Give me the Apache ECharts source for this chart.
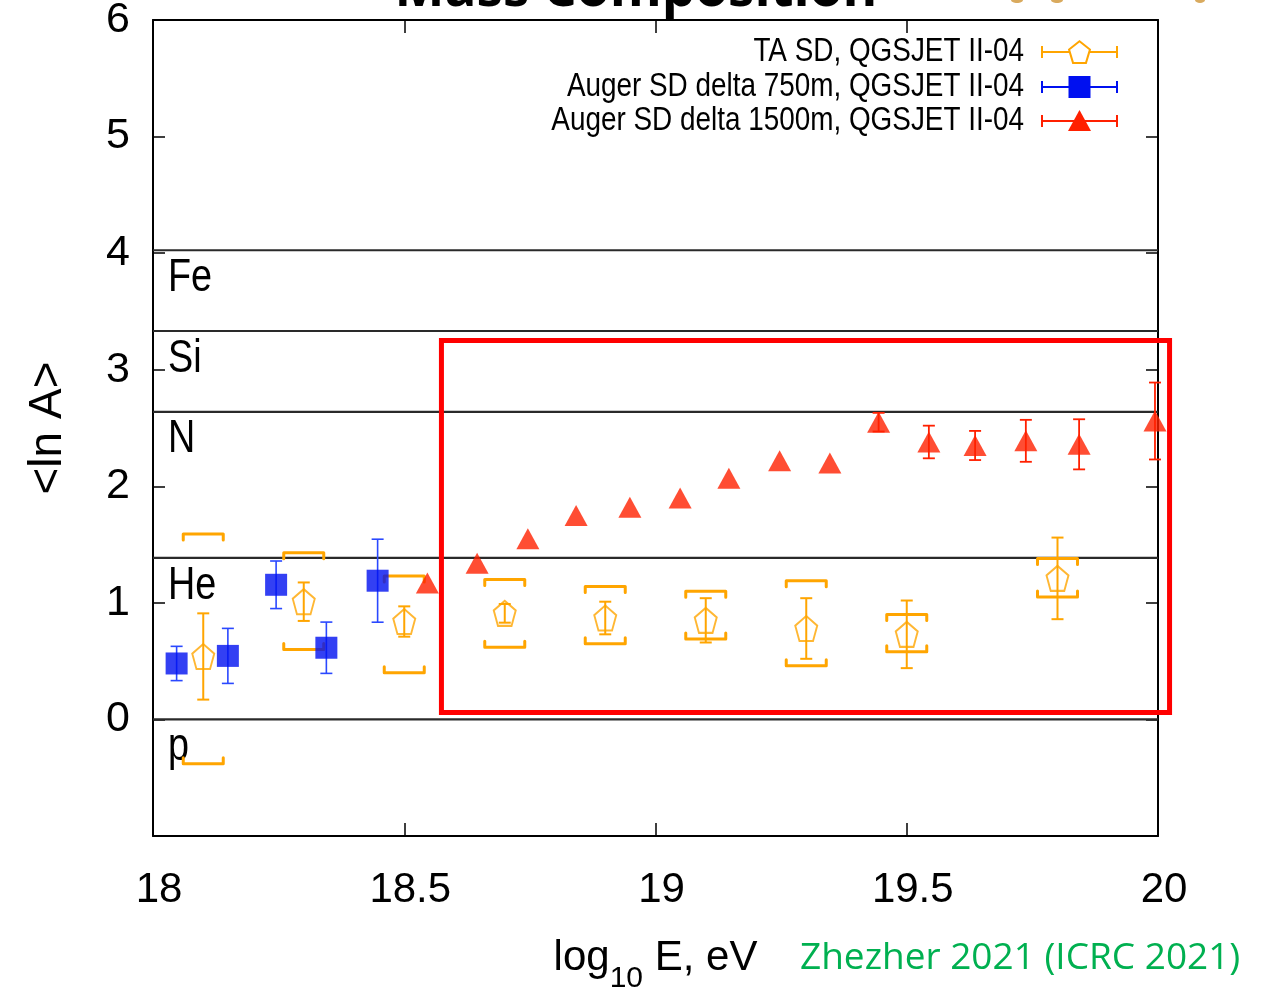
<!DOCTYPE html>
<html>
<head>
<meta charset="utf-8">
<title>Mass Composition</title>
<script src="https://cdn.jsdelivr.net/npm/echarts@6/dist/echarts.min.js"></script>
<style>
  html, body { margin: 0; padding: 0; background: #ffffff; }
  #chart { width: 1268px; height: 997px; }
</style>
</head>
<body>
<div id="chart"></div>
<script>
// ---- TA SD, QGSJET II-04: <ln A> with statistical errors and systematic band edges
const taEnergy    = [18.10, 18.30, 18.50, 18.70, 18.90, 19.10, 19.30, 19.50, 19.80];
const taLnA       = [0.54, 1.01, 0.84, 0.91, 0.87, 0.85, 0.78, 0.73, 1.21];
const taStatErr   = [0.37, 0.165, 0.13, 0.08, 0.14, 0.19, 0.26, 0.29, 0.35];
const taSysUpper  = [1.59, 1.43, 1.23, 1.20, 1.14, 1.10, 1.19, 0.90, 1.38];
const taSysLower  = [-0.38, 0.60, 0.40, 0.62, 0.65, 0.69, 0.46, 0.58, 1.05];

// ---- Auger SD delta method, 750 m array
const auger750Energy = [18.047, 18.149, 18.245, 18.345, 18.447];
const auger750LnA    = [0.48, 0.545, 1.155, 0.615, 1.19];
const auger750Err    = [0.147, 0.236, 0.204, 0.22, 0.356];

// ---- Auger SD delta method, 1500 m array
const auger1500Energy = [18.546, 18.645, 18.746, 18.842, 18.949, 19.049, 19.146, 19.247,
                         19.347, 19.444, 19.544, 19.636, 19.737, 19.843, 19.994];
const auger1500LnA    = [1.17, 1.34, 1.55, 1.75, 1.82, 1.90, 2.07, 2.22,
                         2.20, 2.55, 2.38, 2.35, 2.39, 2.36, 2.56];
const auger1500Err    = [0, 0, 0, 0, 0, 0, 0, 0,
                         0, 0.08, 0.14, 0.125, 0.18, 0.215, 0.33];

// ---- reference nuclei: ln A of p, He, N, Si, Fe
const nucleusNames = ['p', 'He', 'N', 'Si', 'Fe'];
const nucleusLnA   = [0, 1.386, 2.639, 3.332, 4.025];

// ---- axis ticks
const energyTicks = [18, 18.5, 19, 19.5, 20];
const lnATicks    = [0, 1, 2, 3, 4, 5, 6];

// ---- legend entries
const seriesNames = ['TA SD, QGSJET II-04', 'Auger SD delta 750m, QGSJET II-04', 'Auger SD delta 1500m, QGSJET II-04'];

// ---- highlighted region (energy range / ln A range)
const highlightEnergy = [18.574, 20.023];
const highlightLnA    = [0.059, 3.25];

const ORANGE = '#ffa500';
const BLUE = '#0010f0';
const BLUE_BAR = '#2a48ff';
const RED = '#ff2000';
const SANS = '"Liberation Sans", Arial, sans-serif';
const NARROW_SCALE = 0.82;

const PENTAGON = 'path://M0,-100L95.1,-30.9L58.8,80.9L-58.8,80.9L-95.1,-30.9Z';

function errorRows(energy, value, err) {
  return energy.map((e, i) => [e, value[i] - err[i], value[i] + err[i]]);
}

function errorBarRenderer(color, capHalf, lineWidth) {
  return function (params, api) {
    const e = api.value(0);
    const lo = api.coord([e, api.value(1)]);
    const hi = api.coord([e, api.value(2)]);
    if (Math.abs(lo[1] - hi[1]) < 1) return null;
    const style = { stroke: color, lineWidth: lineWidth, fill: null };
    return {
      type: 'group',
      children: [
        { type: 'line', shape: { x1: lo[0], y1: lo[1], x2: hi[0], y2: hi[1] }, style },
        { type: 'line', shape: { x1: lo[0] - capHalf, y1: lo[1], x2: lo[0] + capHalf, y2: lo[1] }, style },
        { type: 'line', shape: { x1: hi[0] - capHalf, y1: hi[1], x2: hi[0] + capHalf, y2: hi[1] }, style }
      ]
    };
  };
}

// systematic brackets: top edge hooks down, bottom edge hooks up
function bracketRenderer(params, api) {
  const e = api.value(0);
  const lo = api.coord([e, api.value(1)]);
  const hi = api.coord([e, api.value(2)]);
  const hw = 20, hook = 6;
  const style = { stroke: ORANGE, lineWidth: 3, fill: null, lineJoin: 'round', lineCap: 'round' };
  return {
    type: 'group',
    children: [
      { type: 'polyline', shape: { points: [[hi[0] - hw, hi[1] + hook], [hi[0] - hw, hi[1]], [hi[0] + hw, hi[1]], [hi[0] + hw, hi[1] + hook]] }, style },
      { type: 'polyline', shape: { points: [[lo[0] - hw, lo[1] - hook], [lo[0] - hw, lo[1]], [lo[0] + hw, lo[1]], [lo[0] + hw, lo[1] - hook]] }, style }
    ]
  };
}

function nucleusRenderer(params, api) {
  const cs = params.coordSys;
  const y = api.coord([18, api.value(0)])[1];
  return {
    type: 'group',
    children: [
      { type: 'line', shape: { x1: cs.x, y1: y, x2: cs.x + cs.width, y2: y },
        style: { stroke: '#2a2a2a', lineWidth: 2.2 } },
      { type: 'text', x: cs.x + 15, y: y + 5, scaleX: NARROW_SCALE,
        style: { text: nucleusNames[params.dataIndex], font: '46px ' + SANS, fill: '#000000',
                 align: 'left', verticalAlign: 'top' } }
    ]
  };
}

const chart = echarts.init(document.getElementById('chart'), null, { renderer: 'canvas' });

const axisLineStyle = { color: '#000000', width: 2 };

const option = {
  animation: false,
  backgroundColor: '#ffffff',
  grid: { left: 153, right: 110, top: 20, bottom: 161, containLabel: false, outerBoundsMode: 'none' },
  xAxis: [
    {
      type: 'value', position: 'bottom', min: 18, max: 20, interval: 0.5,
      axisLine: { show: true, onZero: false, lineStyle: axisLineStyle },
      axisTick: { show: true, inside: true, length: 13, lineStyle: { color: '#000', width: 1.5 } },
      axisLabel: {
        margin: 33, padding: [0, 0, 0, 12],
        fontSize: 42, fontFamily: SANS, color: '#000',
        formatter: v => (energyTicks.indexOf(v) >= 0 ? String(v) : '')
      },
      splitLine: { show: false },
      name: '{a|log}{s|10}{a| E, eV}',
      nameLocation: 'middle', nameGap: 86,
      nameTextStyle: {
        rich: {
          a: { fontSize: 42, fontFamily: SANS, color: '#000', lineHeight: 72, verticalAlign: 'middle' },
          s: { fontSize: 30, fontFamily: SANS, color: '#000', verticalAlign: 'bottom' }
        }
      }
    },
    {
      type: 'value', position: 'top', min: 18, max: 20, interval: 0.5,
      axisLine: { show: true, onZero: false, lineStyle: axisLineStyle },
      axisTick: { show: true, inside: true, length: 13, lineStyle: { color: '#000', width: 1.5 } },
      axisLabel: { show: false },
      splitLine: { show: false }
    }
  ],
  yAxis: [
    {
      type: 'value', position: 'left', min: -1, max: 6, interval: 1,
      axisLine: { show: true, onZero: false, lineStyle: axisLineStyle },
      axisTick: { show: true, inside: true, length: 12, lineStyle: { color: '#000', width: 1.5 } },
      axisLabel: {
        margin: 23, fontSize: 43, fontFamily: SANS, color: '#000', padding: [4, 0, 0, 0],
        formatter: v => (lnATicks.indexOf(v) >= 0 ? String(v) : '')
      },
      splitLine: { show: false },
      name: '<ln A>', nameLocation: 'middle', nameGap: 82,
      nameTextStyle: { fontSize: 46, fontFamily: SANS, color: '#000' }
    },
    {
      type: 'value', position: 'right', min: -1, max: 6, interval: 1,
      axisLine: { show: true, onZero: false, lineStyle: axisLineStyle },
      axisTick: { show: true, inside: true, length: 12, lineStyle: { color: '#000', width: 1.5 } },
      axisLabel: { show: false },
      splitLine: { show: false }
    }
  ],
  series: [
    {
      name: 'nuclei', type: 'custom', silent: true, z: 1,
      renderItem: nucleusRenderer,
      data: nucleusLnA.map(v => [v]),
      encode: { y: 0 }
    },
    {
      name: seriesNames[0] + ' sys', type: 'custom', silent: true, z: 2,
      renderItem: bracketRenderer,
      data: taEnergy.map((e, i) => [e, taSysLower[i], taSysUpper[i]]),
      encode: { x: 0, y: [1, 2] }
    },
    {
      name: seriesNames[0] + ' stat', type: 'custom', silent: true, z: 2,
      renderItem: errorBarRenderer(ORANGE, 6, 2),
      data: errorRows(taEnergy, taLnA, taStatErr),
      encode: { x: 0, y: [1, 2] }
    },
    {
      name: seriesNames[1] + ' err', type: 'custom', silent: true, z: 2,
      renderItem: errorBarRenderer(BLUE_BAR, 6, 1.6),
      data: errorRows(auger750Energy, auger750LnA, auger750Err),
      encode: { x: 0, y: [1, 2] }
    },
    {
      name: seriesNames[2] + ' err', type: 'custom', silent: true, z: 2,
      renderItem: errorBarRenderer(RED, 6, 1.8),
      data: errorRows(auger1500Energy, auger1500LnA, auger1500Err),
      encode: { x: 0, y: [1, 2] }
    },
    {
      name: seriesNames[0], type: 'scatter', silent: true, z: 3,
      symbol: PENTAGON, symbolSize: [22, 25],
      itemStyle: { color: 'rgba(255,255,255,0)', borderColor: ORANGE, borderWidth: 2 },
      data: taEnergy.map((e, i) => [e, taLnA[i]])
    },
    {
      name: seriesNames[1], type: 'scatter', silent: true, z: 3,
      symbol: 'rect', symbolSize: 22,
      itemStyle: { color: BLUE },
      data: auger750Energy.map((e, i) => [e, auger750LnA[i]])
    },
    {
      name: seriesNames[2], type: 'scatter', silent: true, z: 3,
      symbol: 'triangle', symbolSize: [23, 21],
      itemStyle: { color: RED },
      data: auger1500Energy.map((e, i) => [e, auger1500LnA[i]])
    }
  ]
};

chart.setOption(option);

// ---- overlay: title, legend, credit and highlighted region
function pentagonPoints(cx, cy, rx, ry) {
  const pts = [];
  for (let k = 0; k < 5; k++) {
    const a = -Math.PI / 2 + k * 2 * Math.PI / 5;
    pts.push([cx + rx * Math.cos(a), cy + ry * Math.sin(a) + ry * 0.1]);
  }
  return pts;
}

function legendRow(i, y, color, marker) {
  const x0 = 1042, x1 = 1117, xm = 1079.5;
  const lineStyle = { stroke: color, lineWidth: 2 };
  const items = [
    { type: 'text', x: 1024, y: y, scaleX: NARROW_SCALE,
      style: { text: seriesNames[i], font: '34px ' + SANS, fill: '#000', align: 'right', verticalAlign: 'middle' } },
    { type: 'line', shape: { x1: x0, y1: y, x2: x1, y2: y }, style: lineStyle },
    { type: 'line', shape: { x1: x0, y1: y - 6, x2: x0, y2: y + 6 }, style: lineStyle },
    { type: 'line', shape: { x1: x1, y1: y - 6, x2: x1, y2: y + 6 }, style: lineStyle }
  ];
  if (marker === 'pentagon') {
    items.push({ type: 'polygon', shape: { points: pentagonPoints(xm, y, 11, 12) },
      style: { fill: '#fff', stroke: color, lineWidth: 2 } });
  } else if (marker === 'square') {
    items.push({ type: 'rect', shape: { x: xm - 11, y: y - 11, width: 22, height: 22 }, style: { fill: color } });
  } else {
    items.push({ type: 'polygon', shape: { points: [[xm, y - 11], [xm + 11.5, y + 10], [xm - 11.5, y + 10]] }, style: { fill: color } });
  }
  return items;
}

const boxTL = chart.convertToPixel({ gridIndex: 0 }, [highlightEnergy[0], highlightLnA[1]]);
const boxBR = chart.convertToPixel({ gridIndex: 0 }, [highlightEnergy[1], highlightLnA[0]]);

chart.setOption({
  graphic: [
    { type: 'text', x: 636, y: -9, z: 10,
      style: { text: 'Mass Composition', font: 'bold 53px "Open Sans", "Liberation Sans", sans-serif',
               fill: '#000', align: 'center', verticalAlign: 'middle' } },
    { type: 'ellipse', shape: { cx: 1017, cy: 0, rx: 6, ry: 3 }, style: { fill: '#d9aa5e' } },
    { type: 'ellipse', shape: { cx: 1057, cy: 0, rx: 6, ry: 3 }, style: { fill: '#d9aa5e' } },
    { type: 'ellipse', shape: { cx: 1200, cy: 0, rx: 5, ry: 3 }, style: { fill: '#d9aa5e' } },
    { type: 'group', z: 10, children: [].concat(
        legendRow(0, 52, ORANGE, 'pentagon'),
        legendRow(1, 87, BLUE, 'square'),
        legendRow(2, 121, RED, 'triangle')) },
    { type: 'text', x: 800, y: 958, z: 10,
      style: { text: 'Zhezher 2021 (ICRC 2021)', font: '37px "Open Sans", "Noto Sans", sans-serif',
               fill: '#00b050', align: 'left', verticalAlign: 'middle' } },
    { type: 'rect', z: 20,
      shape: { x: boxTL[0], y: boxTL[1], width: boxBR[0] - boxTL[0], height: boxBR[1] - boxTL[1] },
      style: { fill: null, stroke: '#ff0000', lineWidth: 5 } }
  ]
});
</script>
</body>
</html>
